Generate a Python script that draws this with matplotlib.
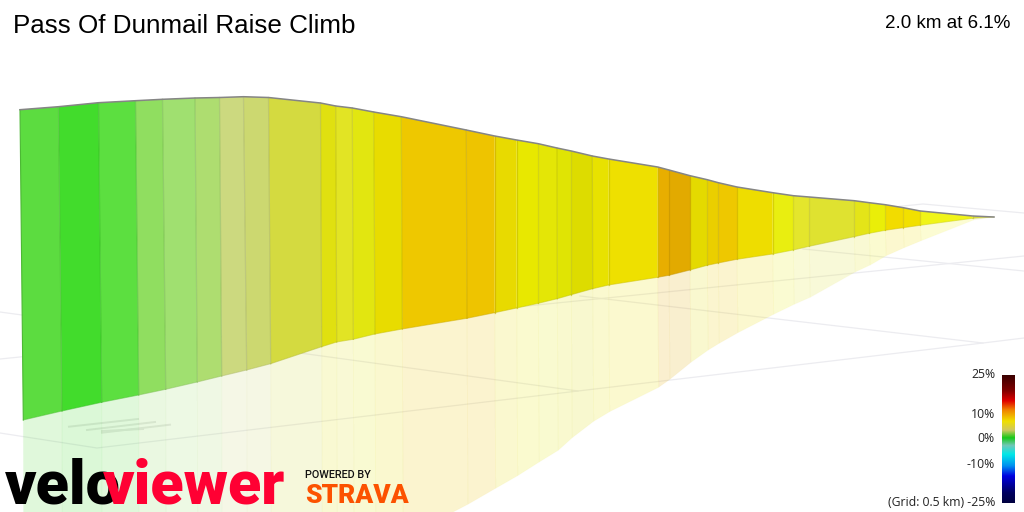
import numpy as np
import matplotlib
matplotlib.use("Agg")
import matplotlib.pyplot as plt
from matplotlib.colors import LinearSegmentedColormap, to_rgb


title = "Pass Of Dunmail Raise Climb"
summary = "2.0 km at 6.1%"

# profile (pixels), one entry per segment boundary
top_x = [20, 58.5, 98.5, 135.5, 162.5, 195, 219.5, 243.5, 268.5, 320.5, 335.7, 352.3, 373.7,
         401.3, 466.3, 494.7, 516.7, 538.3, 557, 571.3, 592.3, 608.7, 657.7, 669, 690, 707.3,
         718.3, 737, 772.7, 793.3, 809.3, 854.3, 869.3, 885.3, 903.3, 920.3, 972.7, 994]
top_y = [109.7, 106.7, 102.7, 100.7, 99.3, 98, 97.5, 96.7, 97.5, 103, 106, 108, 112,
         116.7, 130, 136, 140, 143.7, 148, 151, 156, 159, 167, 170, 175.7, 179.7,
         182.7, 187, 192.7, 195.7, 197, 200.7, 202.7, 204.7, 207.7, 211, 216, 217]
bottom_x = [23.3, 62, 101.7, 138.7, 165.7, 197.3, 221.7, 246.7, 270.7, 321.7, 336.7, 353.3, 375,
            402.3, 467, 494.7, 516.7, 538.3, 557.3, 571.3, 592.7, 608.7, 657.7, 669, 690, 707.3,
            718.3, 737, 772.7, 793.3, 809.3, 854.3, 869.3, 885.3, 903.3, 920.3, 972.7, 994]
bottom_y = [420, 411, 402.3, 395, 389.3, 382, 376, 370, 363.7, 346.7, 342, 339.3, 334,
            329, 318.3, 312.7, 308, 303.3, 298.7, 294.7, 288.7, 285, 277.3, 275.3, 270, 265.3,
            263, 259.3, 254, 250, 246.3, 236.7, 233.3, 230.3, 227.7, 225.3, 218.3, 217]
# lower edge of the reflection on the floor, the left part runs off the picture
shadow_y = [800, 780, 760, 740, 725, 705, 690, 675, 660, 620, 600, 585, 565,
            538, 504.3, 488.3, 475.7, 462, 450.3, 437.7, 421.3, 411.7, 387.3, 379.3, 362.3, 350,
            343.3, 332.7, 314.3, 304.3, 297.3, 272, 265, 255.7, 247.7, 240.7, 220, 217]
seg_colors = ["#5cdc40", "#42dc2c", "#5cdf40", "#90de60", "#a0e070", "#aedd70", "#ccd97f",
              "#ccd870", "#d4da40", "#e0e010", "#e2e424", "#e2e610", "#e8dc00", "#eec800",
              "#eec400", "#e8da00", "#e8e800", "#e4e606", "#e0e404", "#dddc00", "#e8e200",
              "#eee000", "#e8ae00", "#e2aa00", "#e4da00", "#eacf00", "#eec800", "#eedd00",
              "#e9ee10", "#e4e62c", "#dfe230", "#e4e418", "#eaee08", "#f2dc00", "#f2e000",
              "#f0f418", "#dde040"]

# grid lines on the floor
grid_lines = [
    ([0, 97, 578, 983, 1024], [433, 448, 391, 343, 338]),
    ([0, 1024], [359, 256]),
    ([0, 578], [312, 391]),
    ([580, 983], [296, 343]),
    ([803, 1024], [249, 271]),
    ([893, 923, 1024], [207, 204, 213]),
]
road_marks = [
    ([69, 138], [426.7, 419]),
    ([87, 155], [430, 422]),
    ([102, 170], [432.7, 424.7]),
    ([102, 143], [431, 429]),
]

# legend colour bar
bar_labels = ["25%", "10%", "0%", "-10%", "(Grid: 0.5 km) -25%"]
bar_label_y = [375, 414, 439, 464, 503]
bar_pos = [0.0, 0.12, 0.20, 0.27, 0.36, 0.43, 0.49, 0.55, 0.62, 0.71, 0.79, 0.92, 1.0]
bar_colors = ["#3a0000", "#800000", "#e00000", "#f08000", "#f0e000", "#d0c860", "#18c818",
              "#70c8b8", "#00e8e8", "#0090f0", "#0000e0", "#000060", "#000040"]


fig = plt.figure(figsize=(10.24, 5.12), dpi=100)
ax = fig.add_axes([0, 0, 1, 1])
ax.set_xlim(0, 1024)
ax.set_ylim(512, 0)
ax.axis("off")

for xs, ys in grid_lines:
    ax.plot(xs, ys, color="#ececf0", lw=0.9, zorder=1)
for xs, ys in road_marks:
    ax.plot(xs, ys, color="#e8e8e8", lw=1.4, zorder=1)

# Reflection first, then the coloured wall on top of it
for i, c in enumerate(seg_colors):
    r, g, b = to_rgb(c)
    xs = [bottom_x[i], bottom_x[i + 1], bottom_x[i + 1] + 1, bottom_x[i] + 1]
    ys = [bottom_y[i], bottom_y[i + 1], shadow_y[i + 1], shadow_y[i]]
    ax.fill(xs, ys, facecolor=(r, g, b, 0.19), edgecolor=(r, g, b, 0.03), lw=0.6, zorder=2)

for i, c in enumerate(seg_colors):
    r, g, b = to_rgb(c)
    xs = [top_x[i], top_x[i + 1], bottom_x[i + 1], bottom_x[i]]
    ys = [top_y[i], top_y[i + 1], bottom_y[i + 1], bottom_y[i]]
    ax.fill(xs, ys, facecolor=c, edgecolor="none", zorder=3)
    edge = (r * 0.85, g * 0.85, b * 0.85)
    ax.plot([top_x[i + 1], bottom_x[i + 1]], [top_y[i + 1], bottom_y[i + 1]],
            color=edge, lw=0.9, alpha=0.6, zorder=4)
    ax.plot([bottom_x[i], bottom_x[i + 1]], [bottom_y[i], bottom_y[i + 1]],
            color=edge, lw=0.7, alpha=0.5, zorder=4)
ax.plot([top_x[0], bottom_x[0]], [top_y[0], bottom_y[0]], color="#4cb834", lw=0.8, zorder=4)
ax.plot(top_x, top_y, color="#858585", lw=1.1, zorder=5)

ax.text(13, 26, title, fontsize=18.7, family="Liberation Sans", va="center", ha="left", color="#000000")
ax.text(1010, 24, summary, fontsize=13.5, family="Liberation Sans", va="center", ha="right", color="#000000")

# colour bar
cmap = LinearSegmentedColormap.from_list("gradient", list(zip(bar_pos, bar_colors)), N=256)
gradient = np.linspace(0, 1, 256).reshape(-1, 1)
ax.imshow(gradient, cmap=cmap, extent=(1002, 1015, 503, 375), aspect="auto", zorder=6)
ax.set_xlim(0, 1024)
ax.set_ylim(512, 0)
for label, y in zip(bar_labels, bar_label_y):
    ax.text(995, y, label, fontsize=8.8, family="Open Sans", ha="right", va="center", color="#222222", zorder=7)

# logos
ax.text(5, 503, "velo", fontsize=44, family="Roboto", weight="black", ha="left",
        va="baseline", color="#000000", zorder=8)
ax.text(285, 503, "viewer", fontsize=44, family="Roboto", weight="black", ha="right",
        va="baseline", color="#ff0033", zorder=8)
ax.text(305, 478, "POWERED BY", fontsize=7.8, family="Roboto", weight="medium", ha="left",
        va="baseline", color="#111111", zorder=8)
ax.text(305, 503, "STRAVA", fontsize=19, family="Roboto", weight="black", ha="left",
        va="baseline", color="#fc5200", zorder=8)

fig.savefig("out.png", dpi=100)
